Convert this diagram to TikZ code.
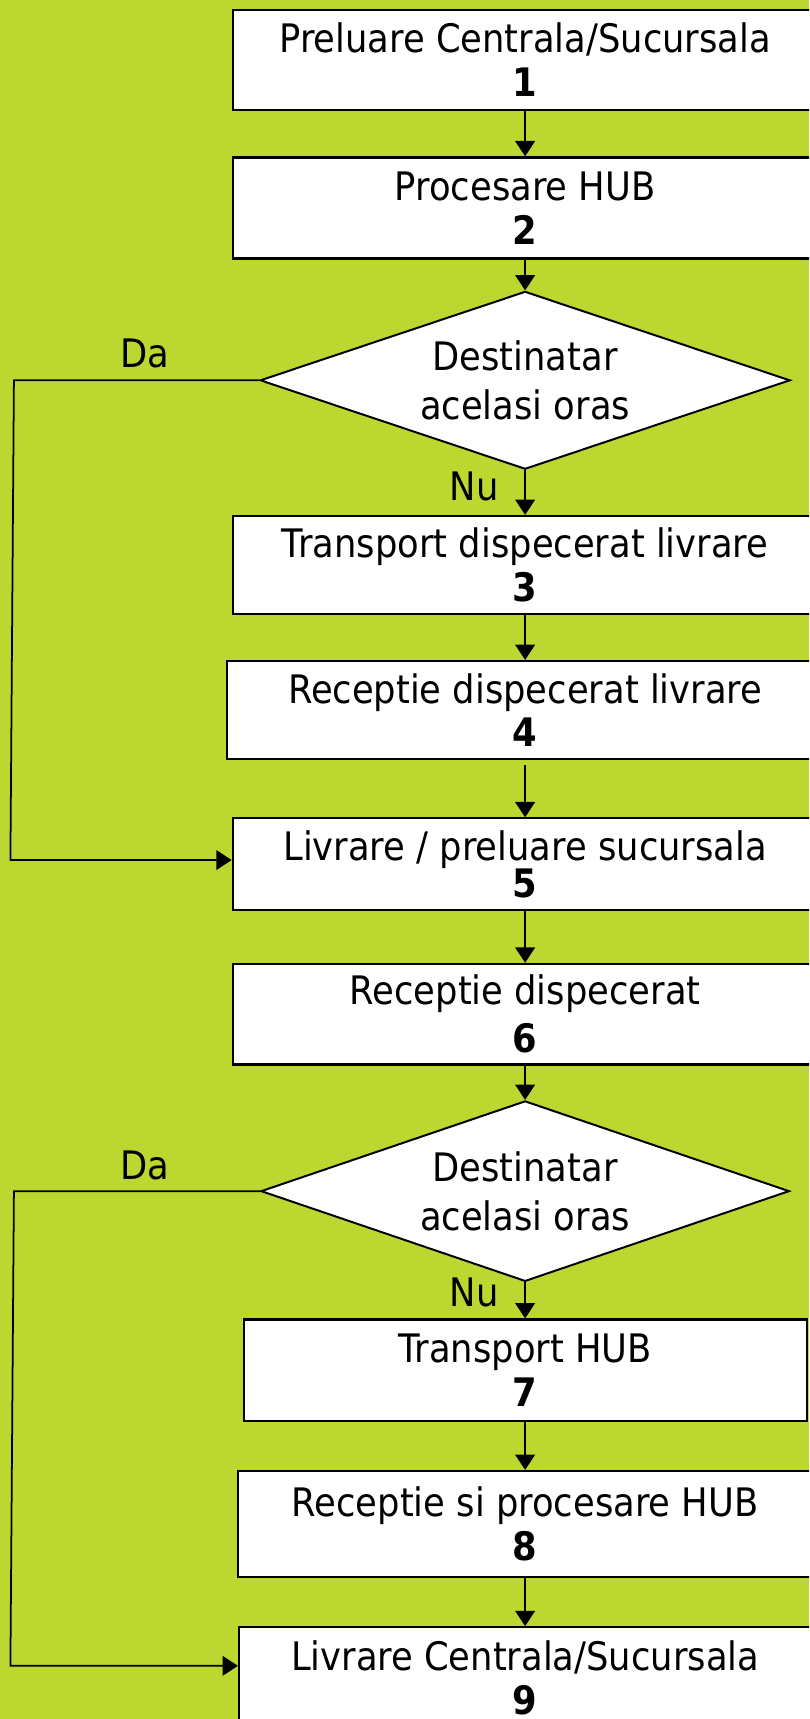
\documentclass[tikz,border=0pt]{standalone}
\usepackage{fontspec}
\setmainfont{DejaVu Sans}[FakeStretch=0.9]
\usetikzlibrary{arrows.meta,shapes.geometric}
\definecolor{bglime}{RGB}{189,215,49}
\begin{document}
\begin{tikzpicture}[x=1pt,y=-1pt,
  box/.style={draw=black, line width=2pt, fill=white, rectangle, align=center, inner sep=0pt, font=\fontsize{35.8}{40}\selectfont},
  decision/.style={draw=black, line width=1.8pt, fill=white, diamond, aspect=2.98, align=center, inner sep=0pt, font=\fontsize{35.8}{44.6}\selectfont},
  lbl/.style={anchor=base, inner sep=0pt, font=\fontsize{35.8}{40}\selectfont},
  arr/.style={draw=black, line width=1.6pt, -{Triangle[length=14pt,width=18pt]}}]
\useasboundingbox (0,0) rectangle (738,1568);
\fill[bglime] (0,0) rectangle (738,1568);
\clip (0,0) rectangle (738,1568);

\node[box, minimum width=532.6pt, minimum height=91.2pt] (b1) at (479,54.7) {Preluare Centrala/Sucursala\\\textbf{1}};
\node[box, minimum width=532.6pt, minimum height=92.2pt] (b2) at (479,189.7) {Procesare HUB\\\textbf{2}};
\node[decision, minimum width=483.4pt, minimum height=162.2pt] (d1) at (479,346.9) {Destinatar\\acelasi oras};
\node[box, minimum width=532.6pt, minimum height=89pt] (b3) at (479,515.2) {Transport dispecerat livrare\\\textbf{3}};
\node[box, minimum width=543.8pt, minimum height=89.4pt] (b4) at (479,647.7) {Receptie dispecerat livrare\\\textbf{4}};
\node[box, minimum width=533.4pt, minimum height=83.8pt] (b5) at (479,788.4) {Livrare / preluare sucursala\\[-6pt]\textbf{5}};
\node[box, minimum width=532.6pt, minimum height=91.8pt] (b6) at (479,925.1) {Receptie dispecerat\\[3.7pt]\textbf{6}};
\node[decision, minimum width=482pt, minimum height=164.6pt] (d2) at (479,1086.5) {Destinatar\\acelasi oras};
\node[box, minimum width=513.5pt, minimum height=92.3pt] (b7) at (479,1249.75) {Transport HUB\\\textbf{7}};
\node[box, minimum width=524pt, minimum height=96.9pt] (b8) at (479,1390.25) {Receptie si procesare HUB\\\textbf{8}};
\node[box, minimum width=522pt, minimum height=92.4pt] (b9) at (479,1530.5) {Livrare Centrala/Sucursala\\\textbf{9}};

\draw[arr] (b1) -- (b2);
\draw[arr] (b2) -- (d1);
\draw[arr] (d1) -- (b3);
\draw[arr] (b3) -- (b4);
\draw[arr, shorten <=4pt] (b4) -- (b5);
\draw[arr] (b5) -- (b6);
\draw[arr] (b6) -- (d2);
\draw[arr] (d2) -- (b7);
\draw[arr] (b7) -- (b8);
\draw[arr] (b8) -- (b9);

\coordinate (c1) at (12.7,346.9);
\coordinate (c2) at (9.5,784.5);
\draw[arr] (d1.west) -- (c1) -- (c2) -- (c2 -| b5.west);
\coordinate (c3) at (12.7,1086.5);
\coordinate (c4) at (9.5,1519.5);
\draw[arr] (d2.west) -- (c3) -- (c4) -- (c4 -| b9.west);

\node[lbl] (da1) at (132.3,335) {Da};
\node[lbl] (nu1) at (432.4,456.7) {Nu};
\node[lbl] (da2) at (132.3,1076) {Da};
\node[lbl] (nu2) at (432.4,1191.6) {Nu};
\end{tikzpicture}
\end{document}
